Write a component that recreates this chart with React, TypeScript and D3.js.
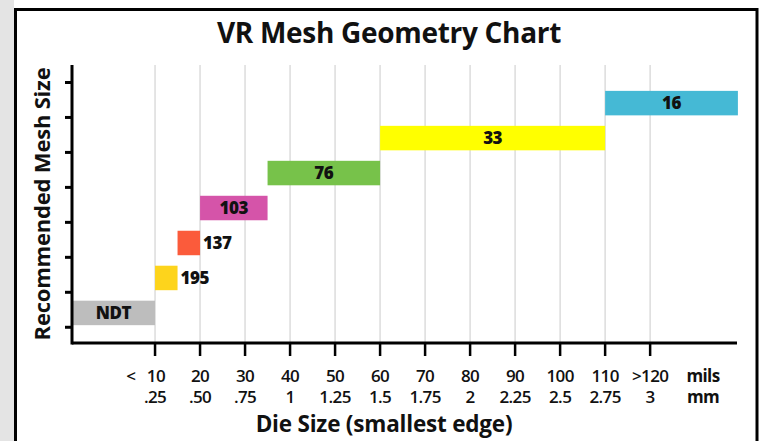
import React from "react";
import * as d3 from "d3";

const meshLabels = ["NDT", "195", "137", "103", "76", "33", "16"];
const startMils = [-8.5, 10, 15, 20, 35, 60, 110];
const endMils = [10, 15, 20, 35, 60, 110, 139.5];
const barColors = ["#bdbdbd", "#fdd41c", "#fb5b3b", "#d554a9", "#77c24a", "#ffff00", "#45b9d5"];
const labelOutside = [false, true, true, false, false, false, false];
const tickMils = [10, 20, 30, 40, 50, 60, 70, 80, 90, 100, 110, 120];
const tickMilsLabels = ["< 10", "20", "30", "40", "50", "60", "70", "80", "90", "100", "110", ">120"];
const tickMmLabels = [".25", ".50", ".75", "1", "1.25", "1.5", "1.75", "2", "2.25", "2.5", "2.75", "3"];
const levelTicks = [0, 1, 2, 3, 4, 5, 6, 7];

const W = 763;
const H = 441;
const FONT = "'Open Sans', 'Noto Sans', sans-serif";

export default function App() {
  const x = d3.scaleLinear().domain([-8.45, 139.3]).range([72, 737]);
  const y = d3.scaleLinear().domain([-0.45, 7.5]).range([343, 65]);
  const x0 = x.range()[0];
  const x1 = x.range()[1];
  const yBottom = y.range()[0];
  const yTop = y.range()[1];

  return (
    <div style={{ position: "absolute", left: 0, top: 0 }}>
      <svg width={W} height={H} style={{ display: "block" }}>
        <rect x={0} y={0} width={W} height={H} fill="#ffffff" />
        <rect x={0} y={0} width={14} height={H} fill="#e4e4e4" />
        <rect x={15.5} y={9.5} width={741.5} height={H} fill="#ffffff" stroke="#000" strokeWidth={3} />

        <text x={389} y={43} textAnchor="middle" fontFamily={FONT} fontWeight={700} fontSize={28} letterSpacing={-0.3} fill="#111">
          VR Mesh Geometry Chart
        </text>

        {/* grid lines */}
        {tickMils.map((t) => (
          <line key={"g" + t} x1={x(t)} x2={x(t)} y1={yTop} y2={yBottom} stroke="#dcdcdc" strokeWidth={1.5} />
        ))}

        {/* bars */}
        {meshLabels.map((lab, i) => {
          const bx = x(startMils[i]);
          const bw = x(endMils[i]) - bx;
          const by = y(i + 0.76);
          const bh = y(i + 0.06) - by;
          return (
            <g key={"b" + i}>
              <rect x={bx} y={by} width={bw} height={bh} fill={barColors[i]} />
              <text
                x={labelOutside[i] ? bx + bw + 3 : bx + bw / 2}
                y={by + bh / 2}
                dy="0.37em"
                textAnchor={labelOutside[i] ? "start" : "middle"}
                fontFamily={FONT}
                fontWeight={800}
                fontSize={17}
                letterSpacing={-0.5}
                fill="#111"
              >
                {lab}
              </text>
            </g>
          );
        })}

        {/* y axis */}
        {levelTicks.map((k) => (
          <line key={"yt" + k} x1={x0 - 7} x2={x0} y1={y(k)} y2={y(k)} stroke="#000" strokeWidth={3} />
        ))}
        <line x1={x0} x2={x0} y1={yTop} y2={yBottom + 1.5} stroke="#000" strokeWidth={3} />

        {/* x axis */}
        <line x1={x0} x2={x1} y1={yBottom} y2={yBottom} stroke="#000" strokeWidth={3} />
        {tickMils.map((t) => (
          <line key={"xt" + t} x1={x(t)} x2={x(t)} y1={yBottom} y2={yBottom + 13} stroke="#000" strokeWidth={2.5} />
        ))}
        {tickMils.map((t, i) => (
          <text
            key={"l1" + t}
            x={i === 0 ? x(t) + 10 : x(t)}
            y={382}
            textAnchor={i === 0 ? "end" : "middle"}
            fontFamily={FONT}
            fontWeight={600}
            fontSize={17}
            letterSpacing={-0.6}
            fill="#111"
          >
            {tickMilsLabels[i].replace(" ", "\u00a0\u00a0\u00a0")}
          </text>
        ))}
        {tickMils.map((t, i) => (
          <text
            key={"l2" + t}
            x={x(t)}
            y={403}
            textAnchor="middle"
            fontFamily={FONT}
            fontWeight={600}
            fontSize={17}
            letterSpacing={-0.6}
            fill="#111"
          >
            {tickMmLabels[i]}
          </text>
        ))}
        <text x={703} y={382} textAnchor="middle" fontFamily={FONT} fontWeight={700} fontSize={17} letterSpacing={-0.6} fill="#111">
          mils
        </text>
        <text x={703} y={403} textAnchor="middle" fontFamily={FONT} fontWeight={700} fontSize={17} letterSpacing={-0.6} fill="#111">
          mm
        </text>

        <text x={384} y={432} textAnchor="middle" fontFamily={FONT} fontWeight={700} fontSize={22.5} letterSpacing={-0.2} fill="#111">
          Die Size (smallest edge)
        </text>
        <text
          transform={`translate(50, ${(yTop + yBottom) / 2}) rotate(-90)`}
          textAnchor="middle"
          fontFamily={FONT}
          fontWeight={700}
          fontSize={22}
          letterSpacing={-0.2}
          fill="#111"
        >
          Recommended Mesh Size
        </text>
      </svg>
    </div>
  );
}
